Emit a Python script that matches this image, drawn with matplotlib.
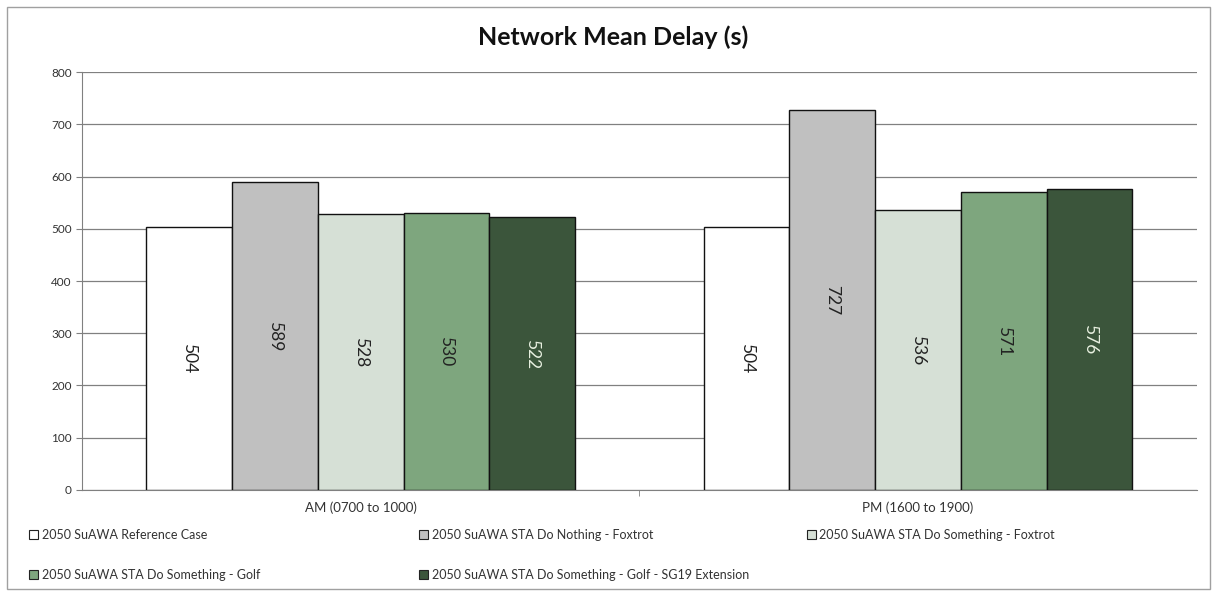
import numpy as np
import matplotlib
matplotlib.use('Agg')
import matplotlib.pyplot as plt
from matplotlib.patches import Patch

plt.rcParams['font.family'] = ['Lato', 'DejaVu Sans']

# Chart data
periods = ['AM (0700 to 1000)', 'PM (1600 to 1900)']
scenarios = [
    '2050 SuAWA Reference Case',
    '2050 SuAWA STA Do Nothing - Foxtrot',
    '2050 SuAWA STA Do Something - Foxtrot',
    '2050 SuAWA STA Do Something - Golf',
    '2050 SuAWA STA Do Something - Golf - SG19 Extension',
]
reference_case = [504, 504]
do_nothing_foxtrot = [589, 727]
do_something_foxtrot = [528, 536]
do_something_golf = [530, 571]
do_something_golf_sg19 = [522, 576]

series = [reference_case, do_nothing_foxtrot, do_something_foxtrot,
          do_something_golf, do_something_golf_sg19]
colors = ['#ffffff', '#c0c0c0', '#d6e0d6', '#7ea67e', '#3b553b']
label_colors = ['#222222', '#222222', '#222222', '#222222', '#e8f0e0']

fig = plt.figure(figsize=(12.15, 5.91), dpi=100)
ax = fig.add_axes([0.0675, 0.171, 0.9175, 0.707])

x = np.arange(len(periods))
n = len(series)
width = 1.0 / (n + 1.5)

for i, vals in enumerate(series):
    offs = (i - (n - 1) / 2) * width
    bars = ax.bar(x + offs, vals, width, color=colors[i], edgecolor='#111111',
                  linewidth=1.0, zorder=3)
    for b, v in zip(bars, vals):
        ax.text(b.get_x() + b.get_width() / 2, v / 2, str(v), rotation=-90,
                ha='center', va='center', fontsize=12.5, color=label_colors[i],
                zorder=4)

ax.set_xlim(-0.5, len(periods) - 0.5)
ax.set_ylim(0, 800)
ax.set_yticks(range(0, 801, 100))
ax.yaxis.grid(True, color='#808080', linewidth=0.9, zorder=0)
ax.set_xticks(x)
ax.set_xticklabels(periods, fontsize=9.5, color='#333333')
ax.set_xticks([0.5], minor=True)
ax.tick_params(axis='x', which='major', length=0, pad=8)
ax.tick_params(axis='x', which='minor', length=4, color='#808080')
ax.tick_params(axis='y', labelsize=8.5, labelcolor='#333333', length=4,
               color='#808080')
for s in ['top', 'right']:
    ax.spines[s].set_visible(False)
ax.spines['left'].set_color('#808080')
ax.spines['bottom'].set_color('#808080')

fig.text(0.505, 0.937, 'Network Mean Delay (s)', ha='center', va='center',
         fontsize=18, fontweight='bold', color='#111111')

# legend laid out row-wise in three equal columns, like the original
leg_x = [0.024, 0.345, 0.664]
leg_y = [0.095, 0.027]
for i, (name, c) in enumerate(zip(scenarios, colors)):
    h = Patch(facecolor=c, edgecolor='#222222', linewidth=0.8)
    leg = fig.legend([h], [name], loc='center left',
                     bbox_to_anchor=(leg_x[i % 3], leg_y[i // 3]),
                     frameon=False, fontsize=9, borderpad=0, borderaxespad=0,
                     handlelength=0.7, handleheight=0.7, handletextpad=0.3)
    leg.get_texts()[0].set_color('#333333')

# outer chart border
fig.patches.append(plt.Rectangle((0.006, 0.003), 0.99, 0.985, fill=False,
                                 edgecolor='#a0a0a0', linewidth=1,
                                 transform=fig.transFigure))

fig.savefig('out.png', dpi=100)
plt.close(fig)
